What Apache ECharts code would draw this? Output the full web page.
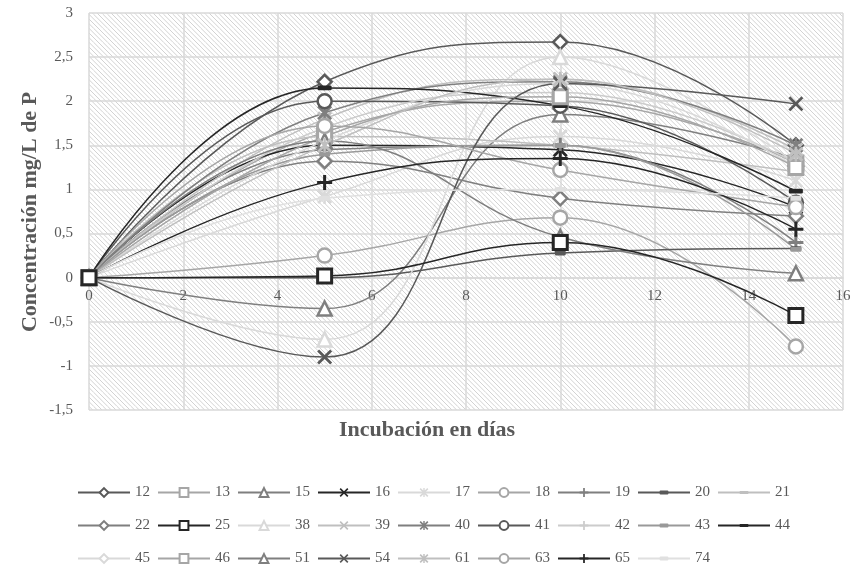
<!DOCTYPE html>
<html>
<head>
<meta charset="utf-8">
<script src="https://cdn.jsdelivr.net/npm/echarts@6/dist/echarts.min.js"></script>
<style>
  html, body { margin: 0; padding: 0; background: #fff; }
  #chart { width: 854px; height: 569px; }
</style>
</head>
<body>
<div id="chart"></div>
<script>
// Incubation days sampled
const days = [0, 5, 10, 15];

// Legend rows (sample identifiers)
const row1 = ['12', '13', '15', '16', '17', '18', '19', '20', '21'];
const row2 = ['22', '25', '38', '39', '40', '41', '42', '43', '44'];
const row3 = ['45', '46', '51', '54', '61', '63', '65', '74'];

// P concentration (mg/L) per sample at days 0, 5, 10, 15
const v12 = [0, 2.22, 2.67, 1.50];
const v13 = [0, 1.65, 2.00, 1.30];
const v15 = [0, -0.35, 1.85, 1.35];
const v16 = [0, 1.50, 1.45, 0.80];
const v17 = [0, 0.92, 1.60, 1.10];
const v18 = [0, 0.25, 0.68, -0.78];
const v19 = [0, 1.45, 1.50, 0.40];
const v20 = [0, 0.00, 0.28, 0.33];
const v21 = [0, 1.60, 1.50, 1.20];
const v22 = [0, 1.32, 0.90, 0.70];
const v25 = [0, 0.02, 0.40, -0.43];
const v38 = [0, -0.70, 2.50, 1.30];
const v39 = [0, 1.80, 2.25, 1.45];
const v40 = [0, 1.87, 2.22, 1.50];
const v41 = [0, 2.00, 1.95, 0.85];
const v42 = [0, 1.70, 2.10, 1.30];
const v43 = [0, 1.40, 1.50, 0.32];
const v44 = [0, 2.15, 1.95, 0.98];
const v45 = [0, 1.55, 2.20, 1.25];
const v46 = [0, 1.60, 2.05, 1.25];
const v51 = [0, 1.55, 0.46, 0.05];
const v54 = [0, -0.90, 2.20, 1.97];
const v61 = [0, 1.50, 2.25, 1.40];
const v63 = [0, 1.72, 1.22, 0.80];
const v65 = [0, 1.08, 1.35, 0.55];
const v74 = [0, 0.90, 1.00, 0.90];

const values = {
  '12': v12, '13': v13, '15': v15, '16': v16, '17': v17, '18': v18, '19': v19,
  '20': v20, '21': v21, '22': v22, '25': v25, '38': v38, '39': v39, '40': v40,
  '41': v41, '42': v42, '43': v43, '44': v44, '45': v45, '46': v46, '51': v51,
  '54': v54, '61': v61, '63': v63, '65': v65, '74': v74
};

// Marker kind and grey tone per sample
const looks = {
  '12': ['diamond', '#595959'], '13': ['square', '#a6a6a6'], '15': ['triangle', '#7f7f7f'],
  '16': ['cross', '#262626'], '17': ['star', '#d9d9d9'], '18': ['circle', '#a6a6a6'],
  '19': ['plus', '#7f7f7f'], '20': ['dash', '#595959'], '21': ['longdash', '#bfbfbf'],
  '22': ['diamond', '#7f7f7f'], '25': ['square', '#262626'], '38': ['triangle', '#d9d9d9'],
  '39': ['cross', '#bfbfbf'], '40': ['star', '#7f7f7f'], '41': ['circle', '#595959'],
  '42': ['plus', '#cccccc'], '43': ['dash', '#999999'], '44': ['longdash', '#262626'],
  '45': ['diamond', '#d9d9d9'], '46': ['square', '#a6a6a6'], '51': ['triangle', '#7f7f7f'],
  '54': ['cross', '#595959'], '61': ['star', '#bfbfbf'], '63': ['circle', '#a6a6a6'],
  '65': ['plus', '#262626'], '74': ['dash', '#e0e0e0']
};

// Series kept in front of their neighbours
const frontSeries = ['25'];

const PATH_CROSS = 'path://M1.3,0L5,3.7L8.7,0L10,1.3L6.3,5L10,8.7L8.7,10L5,6.3L1.3,10L0,8.7L3.7,5L0,1.3Z';
const PATH_STAR = 'path://M1.3,0L5,3.7L8.7,0L10,1.3L6.3,5L10,8.7L8.7,10L5,6.3L1.3,10L0,8.7L3.7,5L0,1.3Z' +
                  'M4.2,0L5.8,0L5.8,10L4.2,10Z';
const PATH_PLUS = 'path://M4,0L6,0L6,4L10,4L10,6L6,6L6,10L4,10L4,6L0,6L0,4L4,4Z';
// Bars padded by hair-thin anchors so the box stays square while the bar is flat
const PATH_DASH = 'path://M5,0L5.01,0L5.01,0.01Z' +
                  'M1,2.8L9,2.8Q10,2.8 10,3.8L10,6.2Q10,7.2 9,7.2L1,7.2Q0,7.2 0,6.2L0,3.8Q0,2.8 1,2.8Z' +
                  'M5,10L5.01,10L5.01,9.99Z';
const PATH_LONGDASH = 'path://M5,0L5.01,0L5.01,0.01Z' +
                  'M0.8,3.3L9.2,3.3Q10,3.3 10,4.1L10,5.9Q10,6.7 9.2,6.7L0.8,6.7Q0,6.7 0,5.9L0,4.1Q0,3.3 0.8,3.3Z' +
                  'M5,10L5.01,10L5.01,9.99Z';

function marker(kind, c) {
  const hollow = { color: '#ffffff', borderColor: c, borderWidth: 2.5 };
  const solid = { color: c, borderWidth: 0 };
  switch (kind) {
    case 'diamond': return { symbol: 'diamond', symbolSize: 14, itemStyle: hollow };
    case 'square': return { symbol: 'rect', symbolSize: 14, itemStyle: Object.assign({}, hollow, { borderWidth: 3 }) };
    case 'triangle': return { symbol: 'triangle', symbolSize: 14, itemStyle: hollow };
    case 'circle': return { symbol: 'circle', symbolSize: 14, itemStyle: hollow };
    case 'cross': return { symbol: PATH_CROSS, symbolSize: 15, itemStyle: solid };
    case 'star': return { symbol: PATH_STAR, symbolSize: 15, itemStyle: solid };
    case 'plus': return { symbol: PATH_PLUS, symbolSize: 15, itemStyle: solid };
    case 'dash': return { symbol: PATH_DASH, symbolSize: 11, itemStyle: solid };
    default: return { symbol: PATH_LONGDASH, symbolSize: 14, itemStyle: solid };
  }
}

// Diagonal hatch used as plot-area fill
function hatchTile() {
  const s = 14;
  const cv = document.createElement('canvas');
  cv.width = s; cv.height = s;
  const ctx = cv.getContext('2d');
  ctx.fillStyle = '#ffffff';
  ctx.fillRect(0, 0, s, s);
  ctx.strokeStyle = '#d2d2d2';
  ctx.lineWidth = 1;
  const step = s / 3;
  for (let k = -s; k <= s; k += step) {
    ctx.beginPath();
    ctx.moveTo(k, 0);
    ctx.lineTo(k + s, s);
    ctx.stroke();
  }
  return cv;
}

const FONT = '"Liberation Serif", "Times New Roman", serif';
const TXT = '#595959';
const order = row1.concat(row2, row3);

// Plot geometry: y range -1.5..3 over the grid height; x labels sit on the zero line
const GRID_TOP = 13, GRID_BOTTOM = 159, CH = 569;
const Y_MIN = -1.5, Y_MAX = 3;
const plotH = CH - GRID_TOP - GRID_BOTTOM;
const zeroOffset = -plotH * (0 - Y_MIN) / (Y_MAX - Y_MIN);

const series = order.map(function (name) {
  const lk = looks[name];
  const m = marker(lk[0], lk[1]);
  return Object.assign({
    name: name,
    type: 'line',
    z: frontSeries.indexOf(name) >= 0 ? 3 : 2,
    smooth: 0.45,
    data: days.map(function (d, i) { return [d, values[name][i]]; }),
    lineStyle: { color: lk[1], width: 1.5 },
    showSymbol: true,
    emphasis: { disabled: true }
  }, m);
});

function legendRow(items, top) {
  return {
    data: items,
    left: 72,
    top: top,
    orient: 'horizontal',
    itemWidth: 52,
    itemHeight: 11,
    itemGap: 7,
    selectedMode: false,
    textStyle: { color: TXT, fontSize: 15, fontFamily: FONT }
  };
}

const chart = echarts.init(document.getElementById('chart'), null, { renderer: 'canvas' });
chart.setOption({
  animation: false,
  backgroundColor: '#ffffff',
  grid: {
    left: 89, right: 11, top: GRID_TOP, bottom: GRID_BOTTOM,
    show: true,
    borderWidth: 0,
    backgroundColor: { image: hatchTile(), repeat: 'repeat' }
  },
  xAxis: {
    type: 'value',
    min: 0, max: 16, interval: 2,
    offset: zeroOffset,
    axisLine: { show: true, onZero: false, lineStyle: { color: '#d9d9d9', width: 1.5 } },
    axisTick: { show: false },
    axisLabel: { color: TXT, fontSize: 15, fontFamily: FONT, margin: 11 },
    splitLine: { show: true, lineStyle: { color: '#d9d9d9', width: 1.5 } }
  },
  yAxis: {
    type: 'value',
    min: Y_MIN, max: Y_MAX, interval: 0.5,
    axisLine: { show: false },
    axisTick: { show: false },
    axisLabel: {
      color: TXT, fontSize: 15, fontFamily: FONT, margin: 16,
      formatter: function (v) { return String(v).replace('.', ','); }
    },
    splitLine: { show: true, lineStyle: { color: '#d9d9d9', width: 1.5 } }
  },
  legend: [legendRow(row1, 480), legendRow(row2, 513), legendRow(row3, 546)],
  graphic: [
    {
      type: 'text', left: 'center', top: 419,
      style: { text: 'Incubación en días', fill: TXT, font: 'bold 22px ' + FONT },
      z: 10
    },
    {
      type: 'text',
      x: 19, y: 212,
      rotation: Math.PI / 2,
      style: { text: 'Concentración mg/L de P', fill: TXT, font: 'bold 22px ' + FONT, align: 'center', verticalAlign: 'top' },
      z: 10
    }
  ],
  series: series
});
</script>
</body>
</html>
